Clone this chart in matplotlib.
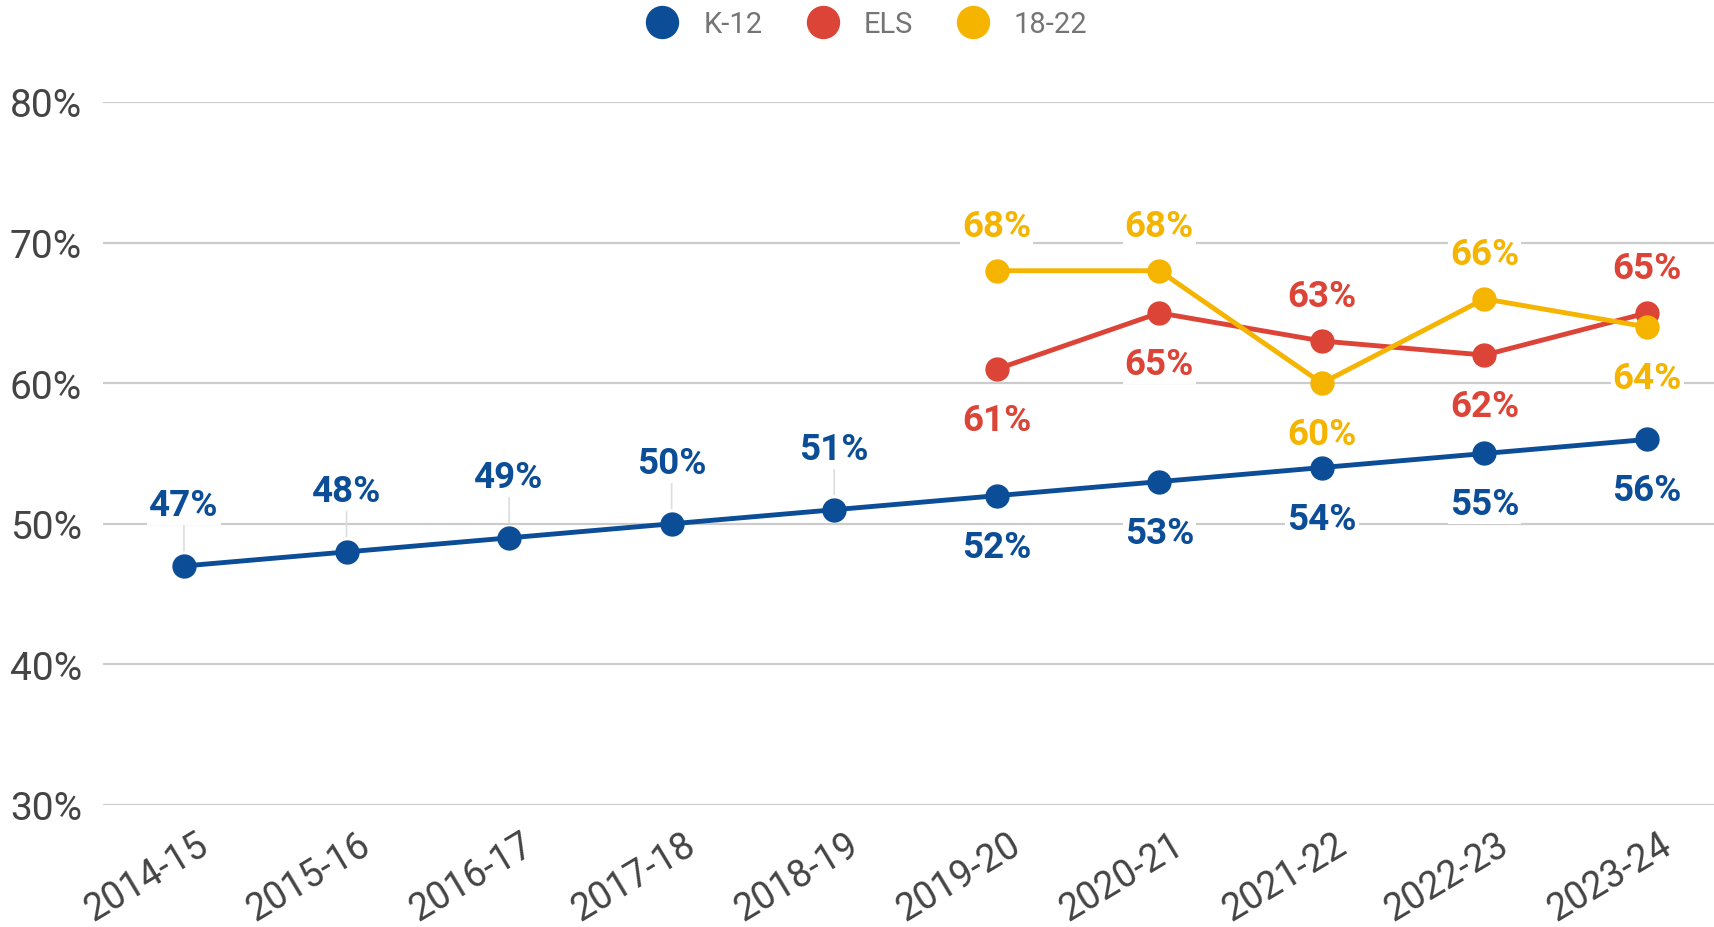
import numpy as np
import matplotlib
matplotlib.use("Agg")
import matplotlib.pyplot as plt
from matplotlib.lines import Line2D
from matplotlib.transforms import ScaledTranslation

plt.rcParams["font.family"] = ["Roboto", "DejaVu Sans"]

years = ["2014-15", "2015-16", "2016-17", "2017-18", "2018-19",
         "2019-20", "2020-21", "2021-22", "2022-23", "2023-24"]
k12 = [47, 48, 49, 50, 51, 52, 53, 54, 55, 56]
els = [np.nan] * 5 + [61, 65, 63, 62, 65]
y1822 = [np.nan] * 5 + [68, 68, 60, 66, 64]

# label placement per point: "up" / "down"
k12_pos = ["up"] * 5 + ["down"] * 5
els_pos = [None] * 5 + ["down", "down", "up", "down", "up"]
y1822_pos = [None] * 5 + ["up", "up", "down", "up", "down"]

BLUE, RED, YELLOW = "#0b4d96", "#dc4437", "#f4b400"

fig = plt.figure(figsize=(17.15, 9.28), dpi=100)
ax = fig.add_axes([103 / 1715, 122 / 928, 1 - 103 / 1715, 703 / 928])

x = np.arange(len(years))
series = [("K-12", k12, k12_pos, BLUE), ("ELS", els, els_pos, RED),
          ("18-22", y1822, y1822_pos, YELLOW)]

for name, vals, pos, col in series:
    ax.plot(x, vals, color=col, lw=3.5, marker="o", ms=16.5, zorder=3)

for name, vals, pos, col in series:
    for xi, v, p in zip(x, vals, pos):
        if p is None or np.isnan(v):
            continue
        stem = name == "K-12" and p == "up"
        dy = 61 if stem else (45 if p == "up" else -51)
        kw = {}
        if stem:
            kw["arrowprops"] = dict(arrowstyle="-", color="#dddddd", lw=1.2,
                                    shrinkA=0, shrinkB=11)
        ax.annotate(f"{v:.0f}%", (xi, v), xytext=(0, dy), textcoords="offset pixels",
                    ha="center", va="center", fontsize=26.5, fontweight="bold",
                    color=col, zorder=5,
                    bbox=dict(boxstyle="square,pad=0.05", fc="white", ec="none"), **kw)

ax.set_xlim(-0.498, 9.418)
ax.set_ylim(30, 80)
ax.set_yticks([30, 40, 50, 60, 70, 80])
ax.set_yticklabels([f"{t}%" for t in [30, 40, 50, 60, 70, 80]])
ax.set_xticks(x)
ax.set_xticklabels(years, rotation=31, ha="right", va="center", rotation_mode="anchor")
ax.tick_params(axis="y", length=0, pad=15, labelsize=28, labelcolor="#444444")
ax.tick_params(axis="x", length=0, pad=0, labelsize=27, labelcolor="#444444")
for lab in ax.get_xticklabels():
    lab.set_transform(lab.get_transform() + ScaledTranslation(0.21, -0.365, fig.dpi_scale_trans))
ax.grid(axis="y", color="#cccccc", lw=1.6)
ax.set_axisbelow(True)
for s in ax.spines.values():
    s.set_visible(False)

handles = [Line2D([], [], ls="none", marker="o", ms=23, color=c) for _, _, _, c in series]
fig.legend(handles, [s[0] for s in series], loc="center", ncol=3,
           bbox_to_anchor=(867 / 1715, 1 - 25 / 928), frameon=False,
           fontsize=21, labelcolor="#757575", handlelength=1.1,
           handletextpad=0.86, columnspacing=1.5)

fig.savefig("out.png", dpi=100)
